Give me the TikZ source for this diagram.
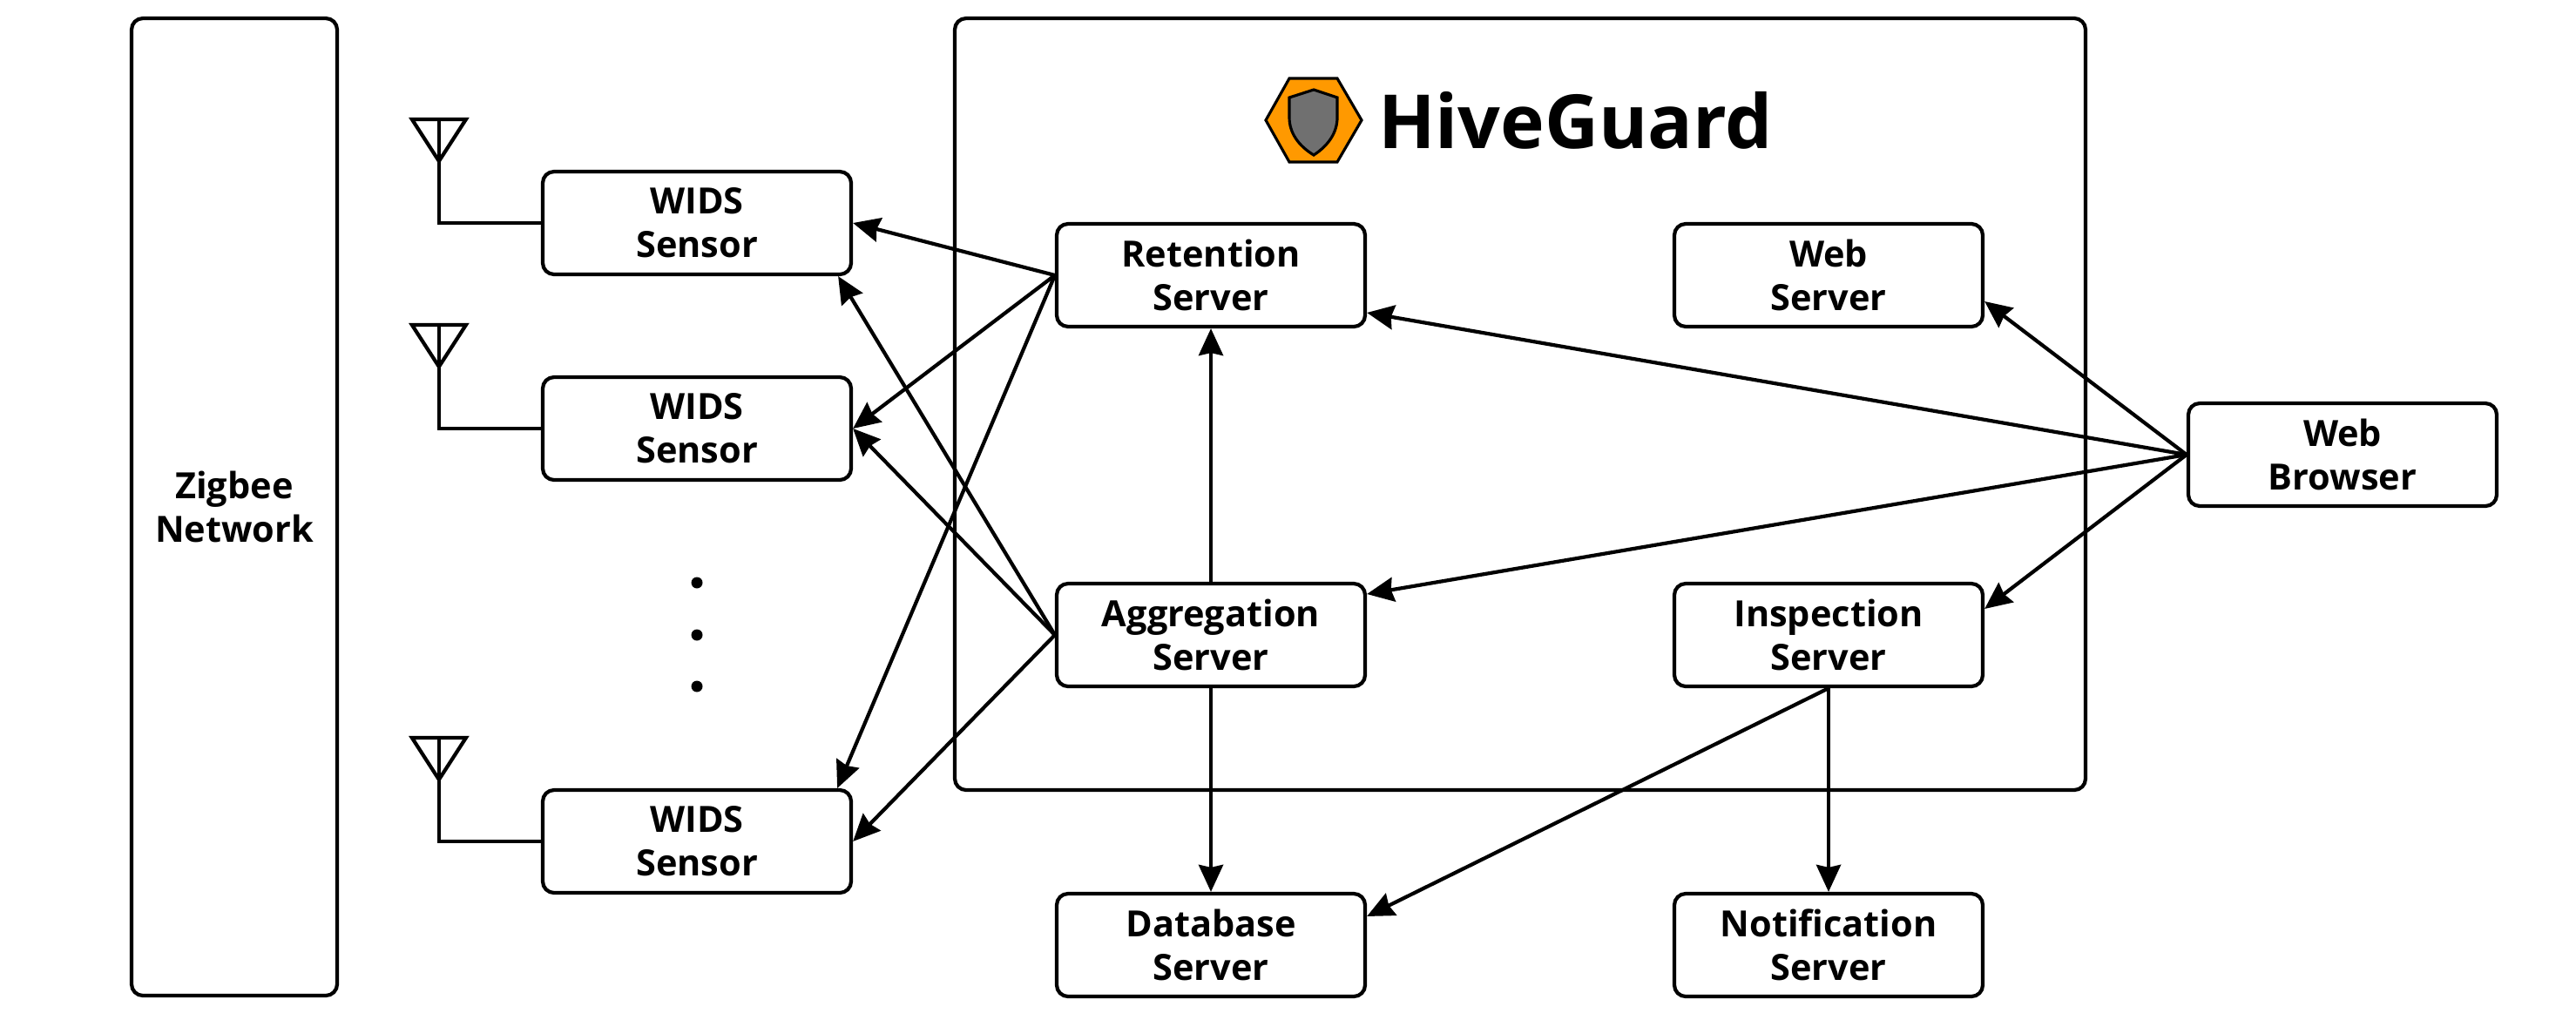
\documentclass[tikz,border=0pt]{standalone}
\usepackage{fontspec}
\setmainfont{Open Sans}
\usetikzlibrary{arrows.meta,calc}

\begin{document}
\begin{tikzpicture}[
  line width=1.2pt,
  box/.style = {draw,rounded corners=.13cm,align=center,font=\fontsize{11.8}{14.2}\selectfont\bfseries,minimum width=3.54cm,minimum height=1.18cm,inner sep=0pt},
  link/.style = {-{Stealth[length=.31cm,width=.28cm,inset=.03cm]}},
  dot/.style = {circle,fill,inner sep=0pt,minimum size=.13cm}
  ]
  \useasboundingbox (0,0) rectangle (29.57,11.62);
  % outer frames
  \node[box,minimum width=2.36cm,minimum height=11.22cm] (zigbee) at (2.69,5.80) {Zigbee\\Network};
  \node[box,minimum width=12.98cm,minimum height=8.86cm] (hive) at (17.45,6.98) {};
  % logo
  \filldraw[fill=orange!80!yellow,line width=.9pt,miter limit=10] (14.53,10.24) -- (14.80,10.72) -- (15.35,10.72) -- (15.63,10.24) -- (15.35,9.76) -- (14.80,9.76) -- cycle;
  \filldraw[fill=black!56,line width=.9pt] (15.08,10.59) -- (14.80,10.50) -- (14.80,10.27) .. controls (14.80,10.10) and (14.90,9.95) .. (15.08,9.84) .. controls (15.25,9.95) and (15.35,10.10) .. (15.35,10.27) -- (15.35,10.50) -- cycle;
  \node[anchor=base west,inner sep=0pt,font=\fontsize{24.4}{28}\selectfont\bfseries] (title) at (15.80,9.92) {HiveGuard};
  % sensors
  \node[box] (wids1) at (8.00,9.06) {WIDS\\Sensor};
  \node[box] (wids2) at (8.00,6.70) {WIDS\\Sensor};
  \node[box] (wids3) at (8.00,1.96) {WIDS\\Sensor};
  \foreach \s in {wids1,wids2,wids3} {
    \coordinate (\s-apex) at ($(\s.west)+(-1.17,.71)$);
    \draw[miter limit=10] (\s.west) -| ($(\s-apex)+(0,.48)$);
    \draw[miter limit=10] (\s-apex) -- +(-.31,.48) -- +(.31,.48) -- cycle;
  }
  \foreach \y/\n in {4.93/d1,4.33/d2,3.74/d3} {
    \node[dot] (\n) at (8.00,\y) {};
  }
  % servers
  \node[box] (retention) at (13.90,8.46) {Retention\\Server};
  \node[box] (aggregation) at (13.90,4.33) {Aggregation\\Server};
  \node[box] (web) at (20.99,8.46) {Web\\Server};
  \node[box] (inspection) at (20.99,4.33) {Inspection\\Server};
  \node[box] (browser) at (26.89,6.40) {Web\\Browser};
  \node[box] (database) at (13.90,.77) {Database\\Server};
  \node[box] (notification) at (20.99,.77) {Notification\\Server};
  % connectors
  \draw[link] (retention.west) -- (wids1.east);
  \draw[link] (retention.west) -- (wids2.east);
  \draw[link] (retention.west) -- ([xshift=-.18cm]wids3.north east);
  \draw[link] (aggregation.west) -- ([xshift=-.17cm]wids1.south east);
  \draw[link] (aggregation.west) -- (wids2.east);
  \draw[link] (aggregation.west) -- (wids3.east);
  \draw[link] (aggregation.north) -- (retention.south);
  \draw[link] (aggregation.south) -- (database.north);
  \draw[link] (browser.west) -- ([yshift=-.43cm]retention.east);
  \draw[link] (browser.west) -- ([yshift=-.30cm]web.east);
  \draw[link] (browser.west) -- ([yshift=.47cm]aggregation.east);
  \draw[link] (browser.west) -- ([yshift=.30cm]inspection.east);
  \draw[link] (inspection.south) -- ([yshift=.33cm]database.east);
  \draw[link] (inspection.south) -- (notification.north);
\end{tikzpicture}
\end{document}
